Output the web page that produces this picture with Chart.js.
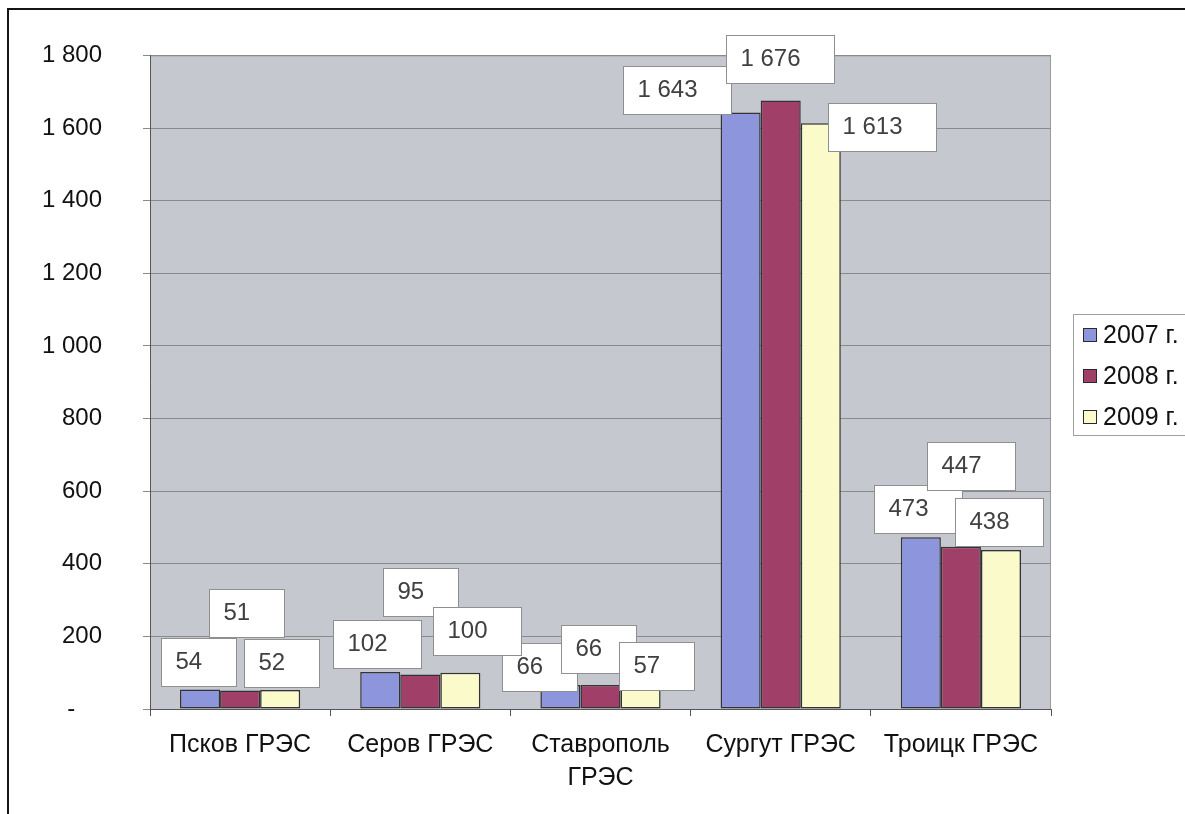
<!DOCTYPE html>
<html>
<head>
<meta charset="utf-8">
<script src="https://cdn.jsdelivr.net/npm/chart.js@4.4.1/dist/chart.umd.min.js"></script>
<style>
  html, body { margin: 0; padding: 0; background: #ffffff; }
  #wrap { position: relative; width: 1185px; height: 814px; }
  #frame { position: absolute; left: 7px; top: 8px; width: 1200px; height: 820px;
           border-left: 2px solid #151515; border-top: 2px solid #151515; pointer-events: none; }
</style>
</head>
<body>
<div id="wrap">
  <canvas id="c" width="1185" height="814"></canvas>
  <div id="frame"></div>
</div>
<script>
// ---- data ----
const categories = ['Псков ГРЭС', 'Серов ГРЭС', ['Ставрополь', 'ГРЭС'], 'Сургут ГРЭС', 'Троицк ГРЭС'];
const seriesNames = ['2007 г.', '2008 г.', '2009 г.'];
const values2007 = [54, 102, 66, 1643, 473];
const values2008 = [51, 95, 66, 1676, 447];
const values2009 = [52, 100, 57, 1613, 438];
const yTicks = [0, 200, 400, 600, 800, 1000, 1200, 1400, 1600, 1800];

// ---- styles ----
const FONT = "'Liberation Sans', Arial, sans-serif";
const colors = ['#8d95dc', '#a03f68', '#fbfacb'];
const PLOT_BG = '#c6c8cf';

function fmt(v) {
  if (v === 0) return '-\u2007\u2007';
  if (v >= 1000) return Math.floor(v / 1000) + ' ' + String(v % 1000).padStart(3, '0');
  return String(v);
}

// label placement (box centre dx from bar centre, box bottom distance above bar top)
const labelPlacement = [
  [[-1.5, 3], [-3, 4], [-21, -6], [-64, -2], [-3, 4]],
  [[6, 53], [0, 59], [-2, 12], [-1, 17], [10, 57]],
  [[1, 3], [17, 18], [16, -2], [61, -28], [-2, 4]]
];

const plotBg = {
  id: 'plotBg',
  beforeDraw(chart) {
    const { ctx, chartArea: a } = chart;
    ctx.save();
    ctx.fillStyle = PLOT_BG;
    ctx.fillRect(a.left, a.top, a.right - a.left, a.bottom - a.top);
    ctx.strokeStyle = '#9a9a9a';
    ctx.lineWidth = 1;
    ctx.beginPath();
    ctx.moveTo(a.left, a.top + 0.5);
    ctx.lineTo(a.right - 0.5, a.top + 0.5);
    ctx.lineTo(a.right - 0.5, a.bottom);
    ctx.stroke();
    ctx.restore();
  }
};

const boxLabels = {
  id: 'boxLabels',
  afterDatasetsDraw(chart) {
    const ctx = chart.ctx;
    ctx.save();
    ctx.font = '24px ' + FONT;
    chart.data.datasets.forEach((ds, di) => {
      const meta = chart.getDatasetMeta(di);
      meta.data.forEach((bar, i) => {
        const txt = fmt(ds.data[i]);
        const tw = ctx.measureText(txt).width;
        const w = Math.round(tw + 14 + 34);
        const h = 48;
        const p = labelPlacement[di][i];
        const cx = bar.x + p[0];
        const bottom = bar.y - p[1];
        const left = Math.round(cx - w / 2) + 0.5;
        const top = Math.round(bottom - h) + 0.5;
        ctx.fillStyle = '#ffffff';
        ctx.fillRect(left, top, w, h);
        ctx.strokeStyle = '#8f8f8f';
        ctx.lineWidth = 1;
        ctx.strokeRect(left, top, w, h);
        ctx.fillStyle = '#404040';
        ctx.textAlign = 'left';
        ctx.textBaseline = 'middle';
        ctx.fillText(txt, left + 14, top + h / 2);
      });
    });
    ctx.restore();
  }
};

const customLegend = {
  id: 'customLegend',
  afterDraw(chart) {
    const ctx = chart.ctx;
    ctx.save();
    ctx.strokeStyle = '#a0a0a0';
    ctx.lineWidth = 1;
    ctx.strokeRect(1073.5, 314.5, 130, 121);
    ctx.font = '25px ' + FONT;
    ctx.textBaseline = 'middle';
    ctx.textAlign = 'left';
    chart.data.datasets.forEach((ds, i) => {
      const cy = 335 + i * 41;
      ctx.fillStyle = ds.backgroundColor;
      ctx.fillRect(1083.5, cy - 6.5, 13, 13);
      ctx.strokeStyle = '#2a2a2a';
      ctx.strokeRect(1083.5, cy - 6.5, 13, 13);
      ctx.fillStyle = '#111111';
      ctx.fillText(ds.label, 1103, cy + 1);
    });
    ctx.restore();
  }
};

new Chart(document.getElementById('c'), {
  type: 'bar',
  data: {
    labels: categories,
    datasets: [
      { label: seriesNames[0], data: values2007, backgroundColor: colors[0] },
      { label: seriesNames[1], data: values2008, backgroundColor: colors[1] },
      { label: seriesNames[2], data: values2009, backgroundColor: colors[2] }
    ]
  },
  options: {
    responsive: false,
    animation: false,
    devicePixelRatio: 1,
    layout: { padding: { left: 0, right: 134, top: 51, bottom: 0 } },
    datasets: {
      bar: { categoryPercentage: 0.667, barPercentage: 1.0, borderColor: '#333333', borderWidth: 1.5, borderSkipped: false }
    },
    plugins: { legend: { display: false }, tooltip: { enabled: false } },
    scales: {
      x: {
        offset: true,
        grid: { offset: true, drawOnChartArea: false, drawTicks: true, tickLength: 7, color: '#555555', lineWidth: 1 },
        border: { display: true, color: '#555555', width: 1 },
        ticks: { color: '#111111', font: { family: FONT, size: 25, lineHeight: 1.3 }, padding: 13, maxRotation: 0, autoSkip: false },
        afterFit(scale) { scale.height = 105; }
      },
      y: {
        min: 0, max: 1800,
        afterBuildTicks(scale) { scale.ticks = yTicks.map(v => ({ value: v })); },
        grid: { color: '#8a8a8a', lineWidth: 1, drawTicks: true, tickLength: 7 },
        border: { display: true, color: '#555555', width: 1 },
        ticks: { color: '#111111', font: { family: FONT, size: 24 }, padding: 41, callback: v => fmt(v) },
        afterFit(scale) { scale.width = 150; }
      }
    }
  },
  plugins: [plotBg, boxLabels, customLegend]
});
</script>
</body>
</html>
